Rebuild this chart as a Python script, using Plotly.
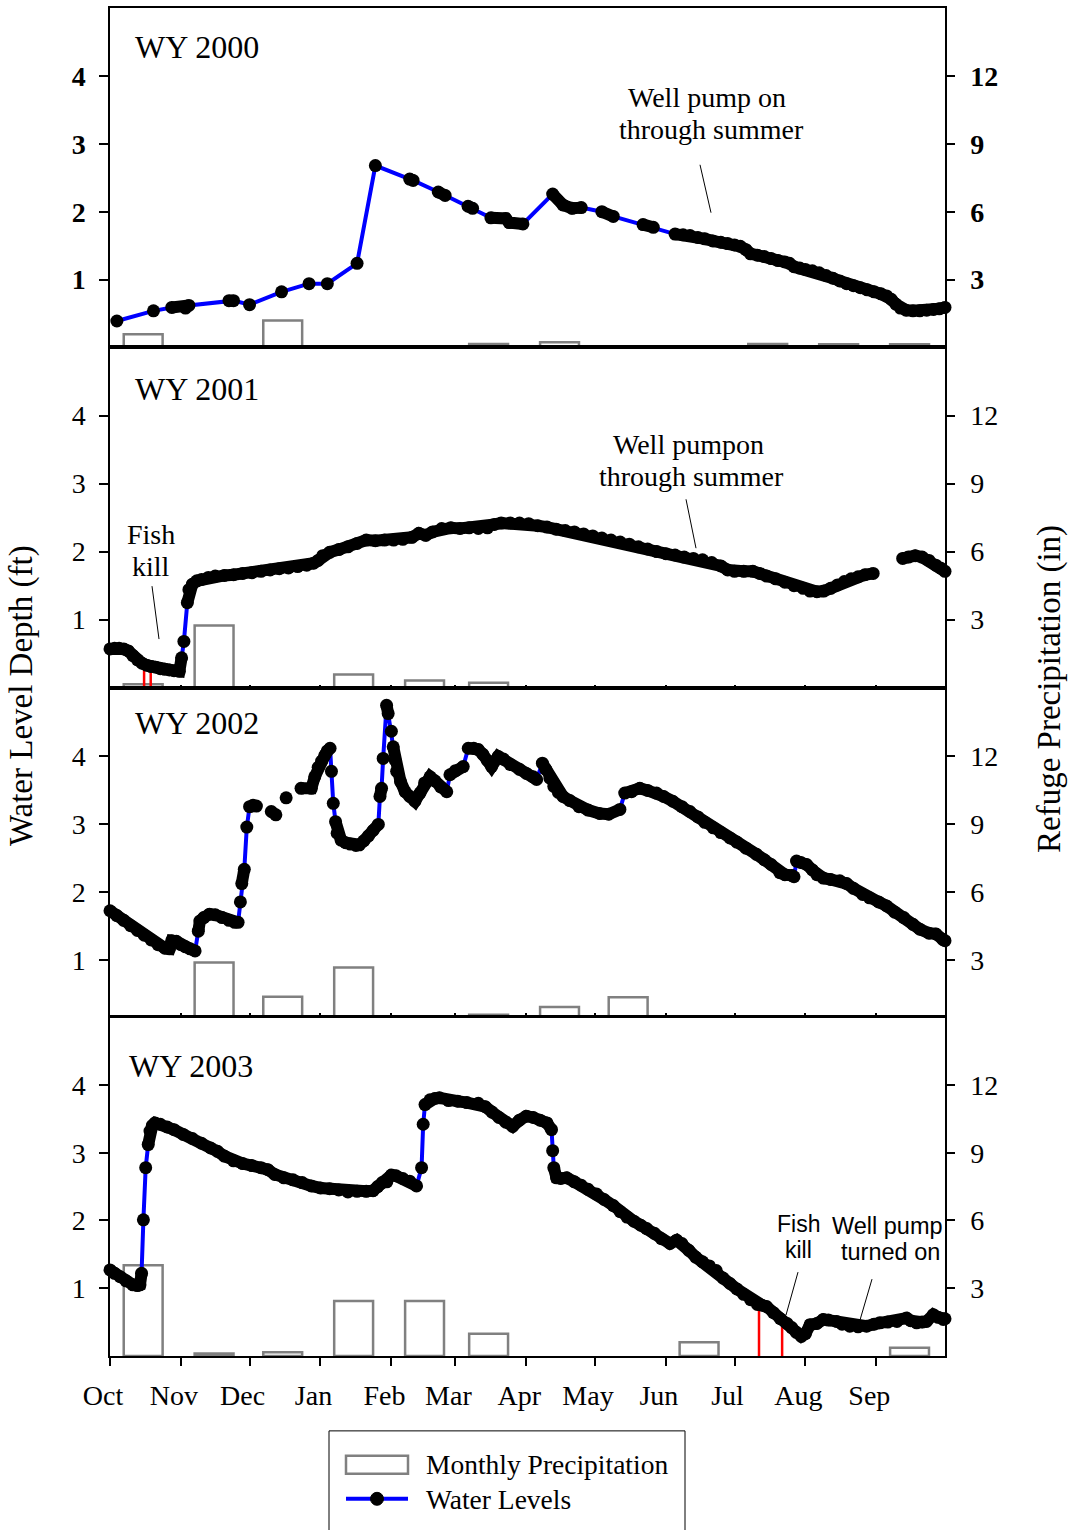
import math
import plotly.graph_objects as go

# ---------------- data ----------------
MONTH_START = [0, 31, 61, 92, 123, 151, 182, 212, 243, 273, 304, 335]
MONTH_LABELS = ["Oct", "Nov", "Dec", "Jan", "Feb", "Mar", "Apr", "May", "Jun", "Jul", "Aug", "Sep"]
LEFT_TICKS = [1, 2, 3, 4]
RIGHT_TICKS = [3, 6, 9, 12]

# monthly precipitation (in), Oct..Sep
PRECIP_2000 = [0.58, None, 1.19, None, None, 0.16, 0.23, None, None, 0.15, 0.14, 0.14]
PRECIP_2001 = [0.15, 2.74, None, 0.58, 0.32, 0.22, None, None, None, None, None, None]
PRECIP_2002 = [None, 2.88, 1.37, 2.66, None, 0.57, 0.91, 1.34, None, None, None, None]
PRECIP_2003 = [4.02, 0.11, 0.17, 2.44, 2.44, 0.99, None, None, 0.61, None, None, 0.36]

# water levels (day of water year, ft)
LEVEL_2000 = [(3, 0.39), (19, 0.54), (27, 0.59), (33, 0.58), (34.5, 0.62), (52, 0.69), (54, 0.69), (61, 0.63),
              (75, 0.82), (87, 0.94), (95, 0.94), (108, 1.24), (116, 2.68), (131, 2.48), (132.5, 2.46),
              (143.5, 2.29), (146.5, 2.24), (156.5, 2.08), (158.5, 2.05), (166.5, 1.91), (173, 1.90),
              (174.5, 1.84), (180.5, 1.82), (193.5, 2.26), (198, 2.10), (202, 2.05), (206, 2.06), (215, 2.00),
              (220, 1.93), (233, 1.81), (237.5, 1.77), (247, 1.67), (250.5, 1.66), (253.5, 1.65), (257, 1.62),
              (260, 1.60), (263.5, 1.57), (267, 1.55), (270, 1.53), (273, 1.51), (275.5, 1.49), (278, 1.44),
              (280, 1.38), (283, 1.36), (286, 1.34), (289, 1.31), (292, 1.28), (295, 1.26), (297, 1.24),
              (299, 1.19), (301.5, 1.17), (304, 1.15), (307, 1.13), (310, 1.10), (313, 1.06), (316, 1.02),
              (319, 0.98), (322, 0.94), (325, 0.91), (328, 0.88), (331, 0.85), (334, 0.82), (337, 0.79),
              (339.5, 0.76), (341.5, 0.71), (343.5, 0.64), (345.5, 0.58), (348, 0.55), (351, 0.54), (354, 0.54),
              (357, 0.55), (360, 0.56), (362.5, 0.57), (365, 0.59)]

LEVEL_2001 = [(0, 0.57), (2, 0.58), (4, 0.58), (6, 0.57), (8, 0.54), (10, 0.47), (12, 0.41), (14, 0.36),
              (16, 0.33), (18, 0.31), (20, 0.30), (22, 0.28), (24, 0.27), (26, 0.26), (28, 0.25), (30.3, 0.24),
              (31.3, 0.44), (32.3, 0.68), (33.8, 1.25), (34.5, 1.44), (36, 1.52), (38, 1.57), (40, 1.59),
              (43, 1.62), (46, 1.64), (50, 1.65), (54, 1.66), (58, 1.68), (62, 1.69), (66, 1.71), (70, 1.73),
              (74, 1.75), (78, 1.76), (82, 1.78), (86, 1.80), (89, 1.83), (91, 1.87), (93, 1.94), (96, 1.99),
              (100, 2.03), (104, 2.07), (108, 2.12), (112, 2.17), (116, 2.16), (120, 2.17), (124, 2.17),
              (128, 2.18), (132, 2.21), (135, 2.27), (138, 2.24), (141, 2.29), (145, 2.34), (149, 2.35),
              (153, 2.34), (157, 2.35), (161, 2.34), (165, 2.35), (168, 2.40), (171, 2.42), (175, 2.42),
              (179, 2.42), (183, 2.41), (187, 2.38), (191, 2.36), (195, 2.33), (199, 2.31), (203, 2.29),
              (207, 2.26), (211, 2.23), (215, 2.20), (219, 2.17), (223, 2.14), (227, 2.11), (231, 2.07),
              (235, 2.04), (239, 2.00), (243, 1.97), (247, 1.95), (251, 1.92), (255, 1.90), (259, 1.88),
              (263, 1.84), (267, 1.79), (270, 1.73), (273, 1.71), (277, 1.71), (281, 1.71), (284, 1.68),
              (287, 1.64), (291, 1.60), (295, 1.55), (299, 1.50), (303, 1.46), (306, 1.42), (309, 1.41),
              (312, 1.42), (315, 1.46), (318, 1.51), (321, 1.56), (324, 1.60), (327, 1.63), (330, 1.66),
              (333.6, 1.68), (340, None), (346.5, 1.90), (349, 1.92), (352, 1.94), (355, 1.92), (358, 1.87),
              (361, 1.80), (363, 1.76), (365, 1.71)]

LEVEL_2002 = [(0, 1.72), (3, 1.65), (6, 1.58), (9, 1.50), (12, 1.43), (15, 1.36), (18, 1.29), (21, 1.22),
              (24, 1.17), (26, 1.16), (27, 1.28), (29, 1.27), (31, 1.22), (33, 1.19), (35, 1.16), (37.2, 1.13),
              (38.6, 1.42), (39.3, 1.57), (41, 1.62), (43.5, 1.67), (46, 1.66), (49, 1.62), (52, 1.58),
              (54.5, 1.55), (56, 1.55), (57, 1.85), (57.6, 2.12), (58.7, 2.33), (59.8, 2.95), (61, 3.25),
              (62.5, 3.27), (64, 3.26), (67, None), (70.5, 3.18), (72.5, 3.13), (75, None), (77, 3.38),
              (80, None), (83.5, 3.52), (88, 3.52), (89.5, 3.69), (91, 3.83), (92.5, 3.92), (94, 4.01),
              (95, 4.07), (96.2, 4.11), (96.8, 3.77), (97.6, 3.30), (98.6, 3.03), (99.3, 2.86), (101, 2.76),
              (103, 2.72), (105, 2.70), (107.5, 2.68), (109, 2.69), (111, 2.75), (113, 2.82), (115, 2.90),
              (117.3, 2.99), (118, 3.40), (118.7, 3.52), (119.4, 3.96), (120.9, 4.74), (121.6, 4.62),
              (123, 4.36), (123.8, 4.13), (124.6, 3.94), (125.3, 3.77), (127, 3.62), (129, 3.47), (131, 3.40),
              (133.3, 3.33), (135.5, 3.45), (137.5, 3.60), (139.9, 3.69), (142, 3.63), (144.5, 3.54),
              (147.2, 3.47), (148.6, 3.72), (151, 3.78), (154.4, 3.84), (156.6, 4.11), (159, 4.11), (161, 4.09),
              (163, 4.02), (165, 3.93), (166.8, 3.84), (169.7, 3.99), (172, 3.95), (175, 3.87), (179, 3.80),
              (182, 3.74), (185, 3.69), (186.5, 3.65), (189, 3.89), (190.5, 3.80), (192.3, 3.67), (194, 3.55),
              (196, 3.46), (198, 3.40), (201, 3.34), (205, 3.25), (209, 3.20), (214, 3.15), (218, 3.14),
              (222.9, 3.21), (225, 3.45), (228, 3.47), (231.6, 3.52), (235, 3.49), (238.9, 3.45), (242, 3.40),
              (246, 3.33), (250, 3.25), (253.5, 3.18), (257, 3.10), (260, 3.02), (263.7, 2.94), (267, 2.87),
              (271, 2.79), (274, 2.73), (278, 2.64), (282.6, 2.55), (286, 2.47), (289, 2.40), (292.8, 2.28),
              (295, 2.25), (298, 2.24), (299, 2.22), (300.1, 2.45), (302, 2.43), (304.5, 2.40), (307, 2.32),
              (309, 2.25), (311.8, 2.20), (315, 2.18), (319, 2.16), (322, 2.12), (325, 2.05), (329, 1.96),
              (332, 1.91), (336, 1.85), (339.5, 1.79), (343, 1.70), (347, 1.62), (351, 1.52), (354, 1.45),
              (358, 1.39), (361, 1.38), (364, 1.30), (365, 1.28)]

LEVEL_2003 = [(0, 1.27), (2, 1.22), (4.4, 1.17), (7, 1.11), (10, 1.05), (12, 1.04), (13.1, 1.05), (13.8, 1.22),
              (14.6, 2.01), (15.6, 2.78), (16.7, 3.12), (17.5, 3.32), (18.5, 3.40), (19.7, 3.44), (22, 3.42),
              (25, 3.38), (28, 3.34), (32, 3.27), (36, 3.21), (40, 3.14), (44, 3.07), (47, 3.02), (50, 2.95),
              (54, 2.88), (58, 2.84), (62, 2.81), (66, 2.78), (69, 2.75), (72, 2.68), (76, 2.63), (80, 2.60),
              (84, 2.56), (88, 2.51), (92, 2.48), (96, 2.47), (100, 2.45), (104, 2.42), (108, 2.43), (112, 2.43),
              (115, 2.44), (117, 2.50), (119, 2.56), (121, 2.57), (123, 2.67), (125, 2.66), (128, 2.62),
              (131, 2.58), (134, 2.51), (136.2, 2.78), (136.9, 3.42), (137.7, 3.71), (139.9, 3.78), (142, 3.80),
              (144, 3.81), (148, 3.77), (152, 3.76), (156, 3.74), (161, 3.73), (164, 3.68), (167, 3.60),
              (170, 3.52), (173, 3.45), (176, 3.39), (179, 3.48), (182, 3.54), (185, 3.52), (188, 3.48),
              (191, 3.44), (193, 3.34), (193.5, 3.03), (194, 2.78), (195.2, 2.63), (197, 2.62), (199.6, 2.63),
              (203, 2.57), (206, 2.52), (209, 2.46), (212.7, 2.39), (216, 2.31), (220, 2.22), (223, 2.13),
              (226, 2.05), (229, 1.99), (232, 1.93), (234.6, 1.88), (238, 1.81), (241, 1.73), (244.8, 1.66),
              (247.7, 1.71), (250, 1.66), (253, 1.56), (256, 1.46), (259, 1.39), (262, 1.33), (265, 1.26),
              (268, 1.15), (271, 1.07), (274, 0.99), (277, 0.91), (280, 0.83), (283, 0.76), (285, 0.75),
              (287, 0.73), (290, 0.64), (293, 0.55), (296, 0.48), (298, 0.42), (300, 0.35), (302.2, 0.29),
              (304, 0.33), (306, 0.46), (309, 0.48), (311.8, 0.54), (314, 0.53), (317.6, 0.51), (320, 0.47),
              (323.4, 0.44), (327, 0.43), (330.7, 0.44), (334, 0.47), (336.5, 0.49), (340, 0.50), (344, 0.51),
              (348.2, 0.56), (350, 0.52), (352.6, 0.49), (355, 0.50), (356.9, 0.51), (359.9, 0.61), (362, 0.57),
              (364.2, 0.54), (365, 0.55)]

# fish kill events (day, water level at the event)
FISHKILL_2001 = [(14.9, 0.33), (17.8, 0.31)]
FISHKILL_2003 = [(283.7, 0.74), (293.8, 0.54)]

# ---------------- layout constants ----------------
SERIF = "Liberation Serif"
SANS = "Liberation Sans"
W, H = 1071, 1530
ML, MR, MT, MB = 110, 126, 6, 174
PW = W - ML - MR
PH = H - MT - MB
BOTTOM = H - MB
TXT = 28
MARK = 13


def pp(xp, yp):
    return (xp - ML) / PW, (BOTTOM - yp) / PH


PANEL_PX = [(6, 346), (346, 686.7), (686.7, 1015), (1016.7, 1356)]

panels = [
    dict(name="WY 2000", level=LEVEL_2000, precip=PRECIP_2000, fish=None, lrange=[0, 5], rrange=[0, 15], bold=True, label=(133, 45)),
    dict(name="WY 2001", level=LEVEL_2001, precip=PRECIP_2001, fish=FISHKILL_2001, lrange=[0, 5], rrange=[0, 15], bold=False, label=(133, 388)),
    dict(name="WY 2002", level=LEVEL_2002, precip=PRECIP_2002, fish=None, lrange=[0.18, 5], rrange=[0.54, 15], bold=False, label=(133, 722)),
    dict(name="WY 2003", level=LEVEL_2003, precip=PRECIP_2003, fish=FISHKILL_2003, lrange=[0, 5], rrange=[0, 15], bold=False, label=(127, 1066)),
]

fig = go.Figure()
layout = dict(
    width=W, height=H,
    margin=dict(l=ML, r=MR, t=MT, b=MB, pad=0),
    paper_bgcolor="white", plot_bgcolor="white",
    showlegend=False,
    font=dict(family=SERIF, size=TXT, color="black"),
)
annotations = []
shapes = []

bar_x = [m + 14.5 for m in MONTH_START]

for i, p in enumerate(panels, start=1):
    xr = "x" if i == 1 else f"x{i}"
    xkey = "xaxis" if i == 1 else f"xaxis{i}"
    np_ = 2 * i - 1
    nl = 2 * i
    ypr = "y" if np_ == 1 else f"y{np_}"
    ypkey = "yaxis" if np_ == 1 else f"yaxis{np_}"
    ylr = f"y{nl}"
    ylkey = f"yaxis{nl}"

    top_px, bot_px = PANEL_PX[i - 1]
    dom = [(BOTTOM - bot_px) / PH, (BOTTOM - top_px) / PH]
    dom = [max(0, dom[0]), min(1, dom[1])]
    px_per_day = PW / 365.0
    px_per_ft = (bot_px - top_px) / (p["lrange"][1] - p["lrange"][0])

    tfont = dict(family=SERIF, size=TXT, color="black")
    if p["bold"]:
        tfont["weight"] = "bold"

    # precipitation bars (base axis, right side)
    fig.add_trace(go.Bar(
        x=bar_x, y=p["precip"], width=17,
        marker=dict(color="rgba(0,0,0,0)", line=dict(color="rgb(128,128,128)", width=2.5)),
        xaxis=xr, yaxis=ypr, name="Monthly Precipitation",
    ))

    # fish kill markers
    if p["fish"]:
        fx, fy = [], []
        for d, lv in p["fish"]:
            fx += [d, d, None]
            fy += [0, lv, None]
        fig.add_trace(go.Scatter(
            x=fx, y=fy, mode="lines", line=dict(color="red", width=2.5),
            xaxis=xr, yaxis=ylr, hoverinfo="skip",
        ))

    days = [d for d, _ in p["level"]]
    lv = [v for _, v in p["level"]]
    fig.add_trace(go.Scatter(
        x=days, y=lv, mode="lines+markers",
        line=dict(color="#0000FF", width=4),
        marker=dict(color="black", size=MARK),
        connectgaps=False, cliponaxis=False,
        xaxis=xr, yaxis=ylr, name="Water Levels",
    ))

    # continuous black band where the recorded points are dense (markers overlap)
    bx, by = [], []
    prev = None
    for d, v in zip(days, lv):
        if v is None:
            bx.append(None); by.append(None); prev = None
            continue
        if prev is not None:
            dist = math.hypot((d - prev[0]) * px_per_day, (v - prev[1]) * px_per_ft)
            if dist > 15:
                bx.append(None); by.append(None)
        bx.append(d); by.append(v)
        prev = (d, v)
    fig.add_trace(go.Scatter(
        x=bx, y=by, mode="lines", line=dict(color="black", width=MARK - 1),
        connectgaps=False, cliponaxis=False, hoverinfo="skip",
        xaxis=xr, yaxis=ylr,
    ))

    layout[xkey] = dict(
        domain=[0, 1], anchor=ypr, range=[0, 365],
        showline=True, mirror=True, linecolor="black", linewidth=1.5,
        showgrid=False, zeroline=False,
        tickmode="array", tickvals=MONTH_START, ticktext=MONTH_LABELS,
        ticks="outside" if i == 4 else "inside", ticklen=8 if i == 4 else 3,
        tickwidth=1.5, tickcolor="black",
        showticklabels=(i == 4),
        tickfont=dict(family=SERIF, size=TXT, color="black"),
        ticklabelshift=-7, ticklabelstandoff=6,
    )
    layout[ypkey] = dict(
        domain=dom, anchor=xr, side="right", range=p["rrange"],
        tickmode="array", tickvals=RIGHT_TICKS,
        ticks="outside", ticklen=8, tickwidth=1.5, tickcolor="black",
        showline=True, linecolor="black", linewidth=1.5,
        showgrid=False, zeroline=False, tickfont=tfont, ticklabelstandoff=10,
    )
    layout[ylkey] = dict(
        overlaying=ypr, anchor=xr, side="left", range=p["lrange"],
        tickmode="array", tickvals=LEFT_TICKS,
        ticks="outside", ticklen=9, tickwidth=1.5, tickcolor="black",
        showline=True, linecolor="black", linewidth=1.5,
        showgrid=False, zeroline=False, tickfont=tfont, ticklabelstandoff=8,
    )

    lx, ly = pp(*p["label"])
    annotations.append(dict(x=lx, y=ly, xref="paper", yref="paper", text=p["name"], showarrow=False,
                            xanchor="left", yanchor="middle", font=dict(family=SERIF, size=32, color="black")))


def text_at(xp, yp, text, family=SERIF, size=TXT):
    x, y = pp(xp, yp)
    annotations.append(dict(x=x, y=y, xref="paper", yref="paper", text=text, showarrow=False,
                            xanchor="center", yanchor="middle", font=dict(family=family, size=size, color="black")))


def line_at(x0, y0, x1, y1, color="black", width=1):
    a, b = pp(x0, y0)
    c, d = pp(x1, y1)
    shapes.append(dict(type="line", xref="paper", yref="paper", x0=a, y0=b, x1=c, y1=d,
                       line=dict(color=color, width=width)))


# panel annotations
text_at(707, 96, "Well pump on")
text_at(711, 128, "through summer")
line_at(700, 163, 711, 211)

text_at(688, 443, "Well pumpon")
text_at(691, 475, "through summer")
line_at(686, 498, 696, 547)

text_at(151, 533, "Fish")
text_at(151, 565, "kill")
line_at(152, 585, 159, 638)

text_at(798, 1224, "Fish", SANS, 23)
text_at(798, 1250, "kill", SANS, 23)
line_at(798, 1272, 786, 1315)
text_at(887, 1226, "Well pump", SANS, 23.5)
text_at(890, 1252, "turned on", SANS, 23.5)
line_at(872, 1279, 860, 1320)

# axis titles
ax, ay = pp(22, 695)
annotations.append(dict(x=ax, y=ay, xref="paper", yref="paper", text="Water Level Depth (ft)", showarrow=False,
                        textangle=-90, xanchor="center", yanchor="middle", font=dict(family=SERIF, size=33, color="black")))
ax, ay = pp(1050, 688)
annotations.append(dict(x=ax, y=ay, xref="paper", yref="paper", text="Refuge Precipitation (in)", showarrow=False,
                        textangle=-90, xanchor="center", yanchor="middle", font=dict(family=SERIF, size=33, color="black")))

# legend (drawn manually)
bx0, by0 = pp(329, 1431)
bx1, by1 = pp(685, 1540)
shapes.append(dict(type="rect", xref="paper", yref="paper", x0=bx0, y0=by0, x1=bx1, y1=by1,
                   line=dict(color="black", width=1), fillcolor="rgba(0,0,0,0)"))
rx0, ry0 = pp(346, 1456)
rx1, ry1 = pp(408, 1474)
shapes.append(dict(type="rect", xref="paper", yref="paper", x0=rx0, y0=ry0, x1=rx1, y1=ry1,
                   line=dict(color="rgb(128,128,128)", width=2.5), fillcolor="rgba(0,0,0,0)"))
line_at(346, 1499, 408, 1499, color="#0000FF", width=4)
cx0, cy0 = pp(370.5, 1492.5)
cx1, cy1 = pp(383.5, 1505.5)
shapes.append(dict(type="circle", xref="paper", yref="paper", x0=cx0, y0=cy0, x1=cx1, y1=cy1,
                   line=dict(color="black", width=1), fillcolor="black"))
for txt, yp in [("Monthly Precipitation", 1465), ("Water Levels", 1500)]:
    tx, ty = pp(424, yp)
    annotations.append(dict(x=tx, y=ty, xref="paper", yref="paper", text=txt, showarrow=False,
                            xanchor="left", yanchor="middle", font=dict(family=SERIF, size=27.5, color="black")))

layout["annotations"] = annotations
layout["shapes"] = shapes
fig.update_layout(**layout)

fig.write_html("out.html", config={"displayModeBar": False},
               post_script="document.body.style.margin='0px';document.body.style.padding='0px';")
